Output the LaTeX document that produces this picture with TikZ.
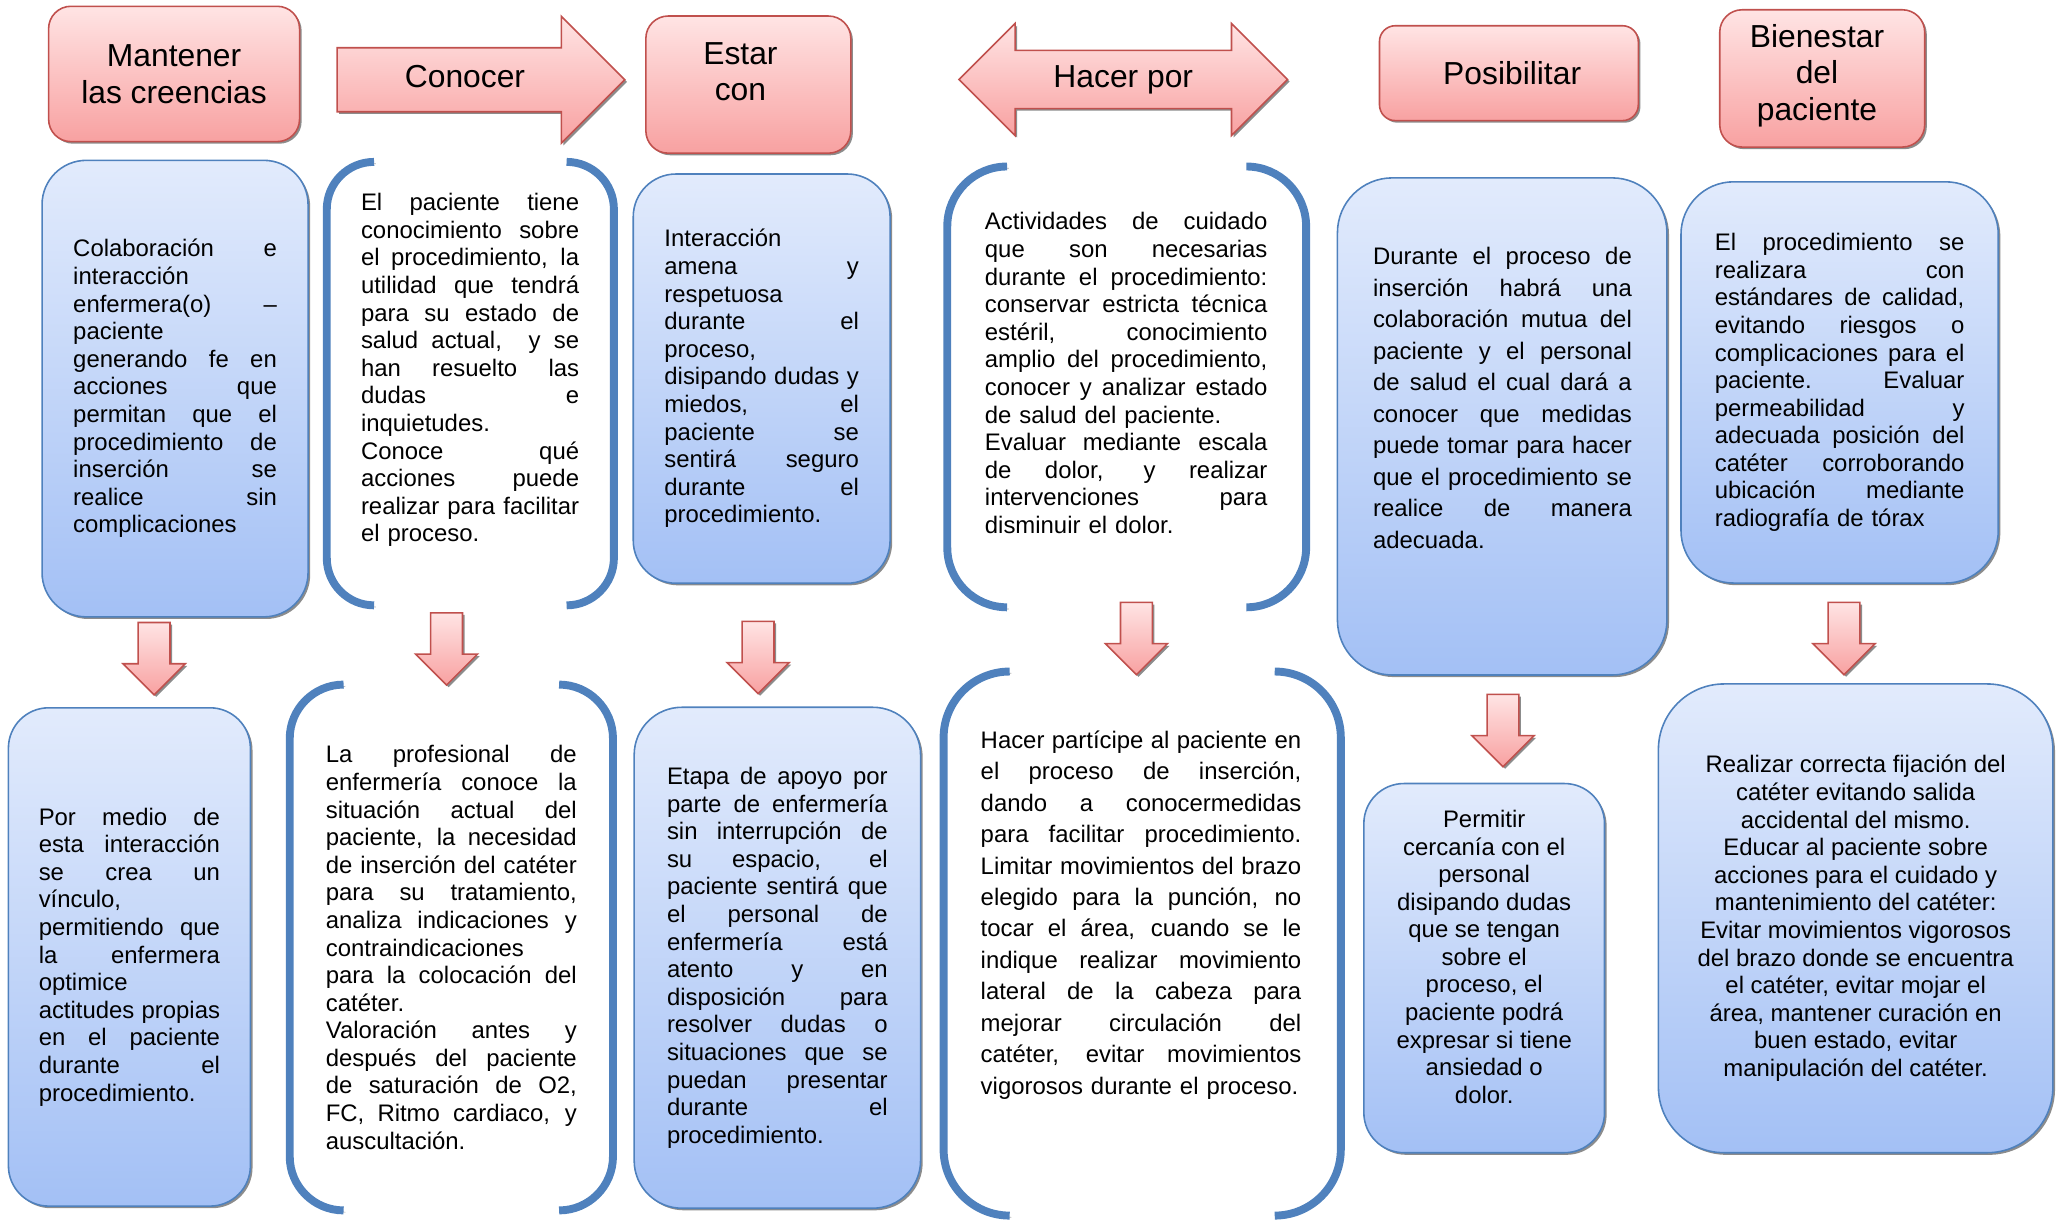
\documentclass[tikz,border=0pt]{standalone}
\usepackage{fontspec}
\setmainfont{Liberation Sans}
\usepackage{xcolor}
\usetikzlibrary{shapes.arrows}
\usetikzlibrary{shadows}

\definecolor{redline}{HTML}{C0504D}
\definecolor{redtop}{HTML}{FFE4E4}
\definecolor{redbot}{HTML}{F8A1A1}
\definecolor{blueline}{HTML}{4F81BD}
\definecolor{bluetop}{HTML}{E2EBFC}
\definecolor{bluebot}{HTML}{A3C0F5}

\newlength{\px}
\setlength{\px}{0.026276cm}
% one justified line, spread to the full width
\newcommand{\jl}[1]{\makebox[\linewidth][s]{\spaceskip=0pt\xspaceskip=0pt\relax #1}\\}
\newcommand{\headfont}{\fontsize{18.1}{20.9}\selectfont}
\newcommand{\bodyfont}{\fontsize{13.6}{15.7}\selectfont}
\newcommand{\widefont}{\fontsize{13.6}{17.9}\selectfont}

\tikzset{
	sombra/.style={drop shadow={shadow xshift=1.2pt, shadow yshift=-1.2pt, opacity=.45, fill=black}},
	redbox/.style={rectangle, rounded corners=#1, draw=redline, line width=.9pt, top color=redtop, bottom color=redbot, sombra, inner sep=0pt, font=\headfont, align=center},
	redbox/.default=17\px,
	redarrow/.style={draw=redline, line width=.9pt, top color=redtop, bottom color=redbot, sombra, inner sep=0pt, font=\headfont, text height=13.2pt, text depth=3.8pt},
	downarrow/.style={redarrow, single arrow, shape border rotate=270, text height=0pt, text depth=0pt, inner sep=8.6pt, minimum height=55\px, minimum width=46\px, single arrow head extend=11.5\px, anchor=tip},
	bluebox/.style={rectangle, rounded corners=#1, draw=blueline, line width=.9pt, top color=bluetop, bottom color=bluebot, sombra, inner sep=0pt, font=\bodyfont, align=left},
	holder/.style={rectangle, inner sep=0pt, font=\bodyfont, align=left},
	txt/.style={inner sep=0pt, font=\bodyfont, align=left},
	brack/.style={draw=blueline, line width=4.5pt, preaction={draw=black!30, transform canvas={shift={(1pt,-1pt)}}}},
}

\begin{document}
\begin{tikzpicture}[x=0.026276cm, y=-0.026276cm]
	\useasboundingbox (0,0) rectangle (1568,928);

	% top row
	\node[redbox, minimum width=191\px, minimum height=103\px] (creencias) at (132.5,56.3) {Mantener\\las creencias};
	\node[redarrow, single arrow, inner ysep=9.25pt, minimum height=219\px, minimum width=95.5\px, single arrow head extend=24\px, anchor=tail] (conocer) at (256,60.7) {Conocer};
	\node[redbox, minimum width=156\px, minimum height=104.4\px] (estar) at (569.6,64.4) {};
	\node[txt, font=\headfont, align=center] (estarT) at (563.6,54.5) {Estar\\con};
	\node[redarrow, double arrow, inner ysep=7.6pt, minimum height=250\px, minimum width=84\px, double arrow head extend=20.5\px] (hacerpor) at (855,60.5) {Hacer por};
	\node[redbox=12\px, minimum width=197\px, minimum height=72.2\px] (posibilitar) at (1148.5,55.7) {};
	\node[txt, font=\headfont] (posibilitarT) at (1151,55.7) {Posibilitar};
	\node[redbox, minimum width=156\px, minimum height=104.5\px] (bienestar) at (1387,59.7) {};
	\node[txt, font=\headfont, align=center] (bienestarT) at (1383,57.5) {Bienestar\\del\\paciente};

	% middle row
	\node[bluebox=33.7\px, minimum width=202.5\px, minimum height=347.5\px, text width=155\px] (colabora) at (133.25,295.8) {%
		\jl{Colaboración e}
		interacción\\
		\jl{enfermera(o) –}
		paciente\\
		\jl{generando fe en}
		\jl{acciones que}
		\jl{permitan que el}
		\jl{procedimiento de}
		\jl{inserción se}
		\jl{realice sin}
		complicaciones};

	\node[holder, minimum width=218\px, minimum height=337\px] (saber) at (358,292) {};
	\node[txt, text width=166\px] (saberT) at (357.8,281.7) {%
		\jl{El paciente tiene}
		\jl{conocimiento sobre}
		\jl{el procedimiento, la}
		\jl{utilidad que tendrá}
		\jl{para su estado de}
		\jl{salud actual,\ \ y se}
		\jl{han resuelto las}
		\jl{dudas e}
		inquietudes.\\
		\jl{Conoce qué}
		\jl{acciones puede}
		\jl{realizar para facilitar}
		el proceso.};

	\node[bluebox=32.6\px, minimum width=195.5\px, minimum height=311.5\px, text width=148\px] (interaccion) at (579.75,288.2) {%
		Interacción\\
		\jl{amena y}
		respetuosa\\
		\jl{durante el}
		proceso,\\
		\jl{disipando dudas y}
		\jl{miedos, el}
		\jl{paciente se}
		\jl{sentirá seguro}
		\jl{durante el}
		procedimiento.};

	\node[holder, minimum width=272.6\px, minimum height=335\px] (cuidado) at (857.6,294.5) {};
	\node[txt, text width=215\px] (cuidadoT) at (857.2,284) {%
		\jl{Actividades de cuidado}
		\jl{que son necesarias}
		\jl{durante el procedimiento:}
		\jl{conservar estricta técnica}
		\jl{estéril, conocimiento}
		\jl{amplio del procedimiento,}
		\jl{conocer y analizar estado}
		de salud del paciente.\\
		\jl{Evaluar mediante escala}
		\jl{de dolor, y realizar}
		\jl{intervenciones para}
		disminuir el dolor.};

	\node[bluebox=41.8\px, minimum width=250.8\px, minimum height=378.4\px] (mutua) at (1143.4,324.6) {};
	\node[txt, font=\widefont, text width=197\px] (mutuaT) at (1143.6,302.9) {%
		\jl{Durante el proceso de}
		\jl{inserción habrá una}
		\jl{colaboración mutua del}
		\jl{paciente y el personal}
		\jl{de salud el cual dará a}
		\jl{conocer que medidas}
		\jl{puede tomar para hacer}
		\jl{que el procedimiento se}
		\jl{realice de manera}
		adecuada.};

	\node[bluebox=40\px, minimum width=241.5\px, minimum height=305.4\px, text width=190\px] (calidad) at (1400.25,291.1) {%
		\jl{El procedimiento se}
		\jl{realizara con}
		\jl{estándares de calidad,}
		\jl{evitando riesgos o}
		\jl{complicaciones para el}
		\jl{paciente. Evaluar}
		\jl{permeabilidad y}
		\jl{adecuada posición del}
		\jl{catéter corroborando}
		\jl{ubicación mediante}
		radiografía de tórax};

	% arrows down
	\node[downarrow] (d1) at (117.3,529.7) {};
	\node[downarrow] (d2) at (339.9,522.3) {};
	\node[downarrow] (d3) at (577,528.8) {};
	\node[downarrow] (d4) at (865,514.4) {};
	\node[downarrow] (d5) at (1144,584.4) {};
	\node[downarrow] (d6) at (1403.6,514.4) {};

	% bottom row
	\node[bluebox=30.7\px, minimum width=184.2\px, minimum height=379.3\px, text width=138\px] (vinculo) at (98.5,728.4) {%
		\jl{Por medio de}
		\jl{esta interacción}
		\jl{se crea un}
		vínculo,\\
		\jl{permitiendo que}
		\jl{la enfermera}
		optimice\\
		\jl{actitudes propias}
		\jl{en el paciente}
		\jl{durante el}
		procedimiento.};

	\node[holder, minimum width=245.5\px, minimum height=399.7\px, text width=191\px] (profesional) at (343.55,721.2) {%
		\jl{La profesional de}
		\jl{enfermería conoce la}
		\jl{situación actual del}
		\jl{paciente, la necesidad}
		\jl{de inserción del catéter}
		\jl{para su tratamiento,}
		\jl{analiza indicaciones y}
		contraindicaciones\\
		\jl{para la colocación del}
		catéter.\\
		\jl{Valoración antes y}
		\jl{después del paciente}
		\jl{de saturación de O2,}
		\jl{FC, Ritmo cardiaco, y}
		auscultación.};

	\node[bluebox=36.3\px, minimum width=218\px, minimum height=381.3\px, text width=168\px] (apoyo) at (591.7,729) {%
		\jl{Etapa de apoyo por}
		\jl{parte de enfermería}
		\jl{sin interrupción de}
		\jl{su espacio, el}
		\jl{paciente sentirá que}
		\jl{el personal de}
		\jl{enfermería está}
		\jl{atento y en}
		\jl{disposición para}
		\jl{resolver dudas o}
		\jl{situaciones que se}
		\jl{puedan presentar}
		\jl{durante el}
		procedimiento.};

	\node[holder, minimum width=301.8\px, minimum height=413.6\px] (participe) at (869.4,718.2) {};
	\node[txt, font=\widefont, text width=244\px] (participeT) at (868.5,696.4) {%
		\jl{Hacer partícipe al paciente en}
		\jl{el proceso de inserción,}
		\jl{dando a conocermedidas}
		\jl{para facilitar procedimiento.}
		\jl{Limitar movimientos del brazo}
		\jl{elegido para la punción, no}
		\jl{tocar el área, cuando se le}
		\jl{indique realizar movimiento}
		\jl{lateral de la cabeza para}
		\jl{mejorar circulación del}
		\jl{catéter, evitar movimientos}
		vigorosos durante el proceso.};

	\node[bluebox=30.5\px, minimum width=183.2\px, minimum height=281\px] (cercania) at (1129.7,736.9) {};
	\node[txt, align=center] (cercaniaT) at (1129.7,728.3) {Permitir\\cercanía con el\\personal\\disipando dudas\\que se tengan\\sobre el\\proceso, el\\paciente podrá\\expresar si tiene\\ansiedad o\\dolor.};

	\node[bluebox=50\px, minimum width=300.3\px, minimum height=356.8\px, align=center] (fijacion) at (1412.45,699) {Realizar correcta fijación del\\catéter evitando salida\\accidental del mismo.\\Educar al paciente sobre\\acciones para el cuidado y\\mantenimiento del catéter:\\Evitar movimientos vigorosos\\del brazo donde se encuentra\\el catéter, evitar mojar el\\área, mantener curación en\\buen estado, evitar\\manipulación del catéter.};

	% brackets
	\foreach \b/\r in {saber/36, cuidado/45.5, profesional/41, participe/50.3} {
		\draw[brack, rounded corners=\r\px] ([xshift=\r\px]\b.north west) -- (\b.north west) -- (\b.south west) -- ([xshift=\r\px]\b.south west);
		\draw[brack, rounded corners=\r\px] ([xshift=-\r\px]\b.north east) -- (\b.north east) -- (\b.south east) -- ([xshift=-\r\px]\b.south east);
	}
\end{tikzpicture}
\end{document}
